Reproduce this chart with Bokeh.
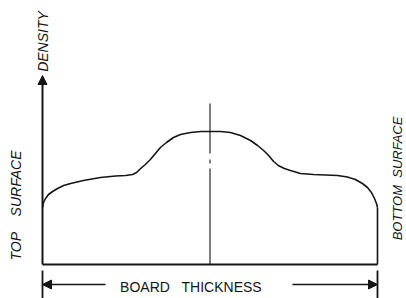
from bokeh.plotting import figure
from bokeh.models import Range1d, Arrow, NormalHead
from bokeh.core.properties import value
from bokeh.embed import file_html
from bokeh.resources import INLINE

# Density profile across the board thickness (position in % of thickness, relative density)
position = [0, 0.3, 0.9, 1.8, 3.0, 4.5, 6.3, 8.4, 12.2, 17.3, 21.8, 24.8, 26.9, 28.1,
            29.3, 30.7, 32.2, 33.7, 35.2, 37.0, 39.1, 41.2, 44.2, 47.2, 50.1, 53.1,
            56.1, 59.1, 62.1, 64.2, 66.0, 67.5, 69.0, 70.4, 72.2, 74.0, 77.0, 80.9,
            84.5, 88.1, 91.0, 93.4, 95.5, 97.0, 98.2, 99.1, 99.7, 100]
density = [57, 62, 66, 70, 73, 76, 79, 81, 84, 87, 88.5, 89, 90, 92,
           96, 100, 105, 111, 117, 122, 127, 130, 132, 133, 133, 133,
           132, 129, 124, 119, 114, 109, 103, 99, 96, 94, 91, 90,
           89.5, 89, 87.5, 85, 81, 77, 72, 66, 61, 57]

axis_label = "DENSITY"
thickness_label = "BOARD\u00a0\u00a0\u00a0THICKNESS"
top_label = "TOP\u00a0\u00a0\u00a0\u00a0SURFACE"
bottom_label = "BOTTOM\u00a0\u00a0SURFACE"

INK = "#151515"
FONT = value("Liberation Sans")

p = figure(width=406, height=298, output_backend="svg", toolbar_location=None,
           x_range=Range1d(-12.54, 108.66), y_range=Range1d(-34, 264),
           x_axis_location=None, y_axis_location=None, min_border=0)
p.grid.visible = False
p.outline_line_color = None
p.background_fill_color = "white"
p.border_fill_color = "white"

lo, hi = min(position), max(position)
mid = (lo + hi) / 2

# profile curve
p.line(position, density, line_width=1.6, color=INK)
# right edge down to baseline
p.segment(x0=[hi], y0=[density[-1]], x1=[hi], y1=[0], line_width=1.6, color=INK)
# baseline
p.segment(x0=[lo], y0=[0], x1=[hi], y1=[0], line_width=2, color=INK)
# centre line (dash-dot)
p.line([mid, mid], [161, 0], line_width=1.1, color=INK, line_dash="50 6 4 5 200")

# density axis with arrow
p.add_layout(Arrow(end=NormalHead(size=9, fill_color=INK, line_color=INK, line_width=1),
                   x_start=lo, y_start=0, x_end=lo, y_end=189,
                   line_width=2, line_color=INK))

# dimension line "board thickness"
p.segment(x0=[lo, hi], y0=[-6, -6], x1=[lo, hi], y1=[-40, -40], line_width=1.8, color=INK)
p.add_layout(Arrow(end=NormalHead(size=9, fill_color=INK, line_color=INK, line_width=1),
                   x_start=18.8, y_start=-20, x_end=lo, y_end=-20,
                   line_width=1.3, line_color=INK))
p.add_layout(Arrow(end=NormalHead(size=9, fill_color=INK, line_color=INK, line_width=1),
                   x_start=74.6, y_start=-20, x_end=hi, y_end=-20,
                   line_width=1.3, line_color=INK))

p.text(x=[44.3], y=[-22], text=[thickness_label], text_font=FONT, text_font_size="14px",
       text_align="center", text_baseline="middle", text_color=INK)

# rotated labels
p.text(x=[lo], y=[223], text=[axis_label], angle=1.5708, text_font=FONT,
       text_font_style="italic", text_font_size="14px",
       text_align="center", text_baseline="middle", text_color=INK)
p.text(x=[-8.06], y=[59], text=[top_label], angle=1.5708, text_font=FONT,
       text_font_style="italic", text_font_size="14px",
       text_align="center", text_baseline="middle", text_color=INK)
p.text(x=[106.1], y=[86], text=[bottom_label], angle=1.5708, text_font=FONT,
       text_font_style="italic", text_font_size="13px",
       text_align="center", text_baseline="middle", text_color=INK)

open("out.html", "w").write(file_html(p, INLINE))
